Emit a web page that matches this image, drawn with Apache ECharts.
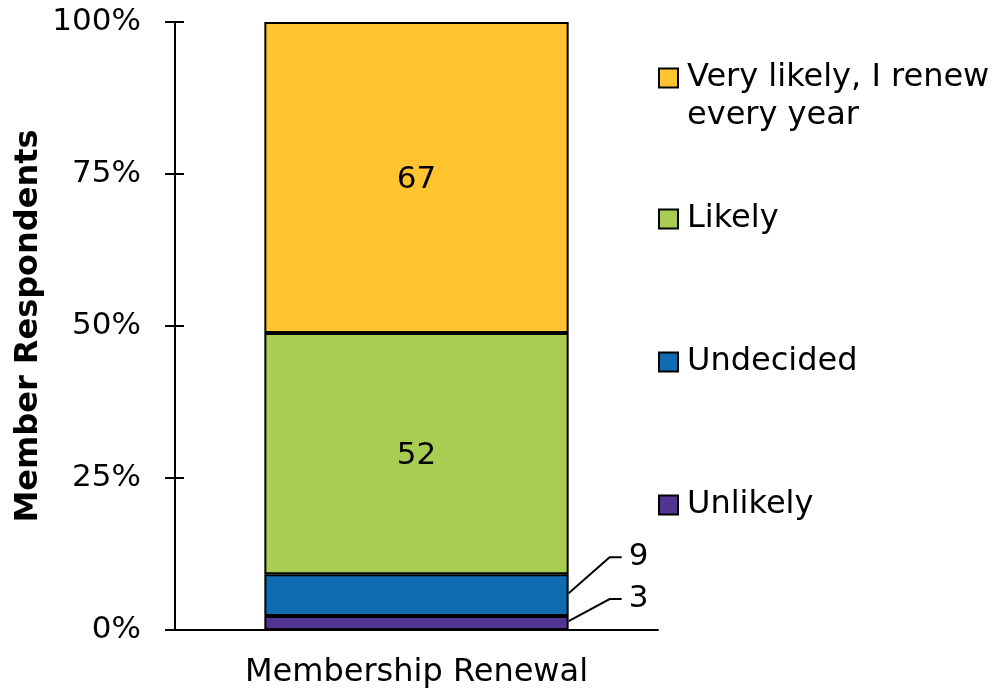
<!DOCTYPE html>
<html>
<head>
<meta charset="utf-8">
<script src="https://cdn.jsdelivr.net/npm/echarts@6/dist/echarts.min.js"></script>
<style>
  html, body { margin: 0; padding: 0; background: #fff; }
  #chart { width: 1004px; height: 690px; }
</style>
</head>
<body>
<div id="chart"></div>
<script>
// ---------------------------------------------------
// Data
// ---------------------------------------------------
const categories = ["Membership Renewal"];
const seriesNames = ["Unlikely", "Undecided", "Likely", "Very likely, I renew every year"];
const counts = [3, 9, 52, 67];
const colors = ["#523492", "#106CB0", "#A8CD52", "#FFC42F"];
const yTicks = [0, 25, 50, 75, 100];

const FONT = "DejaVu Sans";
const BAR_FRAC = 0.63;       // bar width as share of the category band
const SMALL_PCT = 10;        // segments below this get an outside label

const total = counts.reduce((a, b) => a + b, 0);
const pct = counts.map(c => c / total * 100);

// cumulative bottoms / tops for leader lines
const leaderData = [];
let acc = 0;
pct.forEach((p, i) => {
  if (p < SMALL_PCT) leaderData.push([0, acc, acc + p, counts[i]]);
  acc += p;
});

// ---------------------------------------------------
// Legends (one per item, top to bottom)
// ---------------------------------------------------
const legendOrder = seriesNames.slice().reverse();
const legendTops = [21, 200, 343, 486];
const legends = legendOrder.map((name, i) => ({
  data: [name],
  left: 658,
  top: legendTops[i],
  orient: "vertical",
  padding: 0,
  itemWidth: 19,
  itemHeight: 19,
  icon: "rect",
  selectedMode: false,
  itemStyle: { borderColor: "#000", borderWidth: 2 },
  // blank first line keeps the marker level with the first text line
  formatter: n => n === "Very likely, I renew every year" ? "\u00a0\nVery likely, I renew\nevery year" : n,
  textStyle: {
    fontFamily: FONT,
    fontSize: 32,
    color: "#000",
    lineHeight: 38,
    padding: [0, 0, 0, 4]
  }
}));

// ---------------------------------------------------
// Chart
// ---------------------------------------------------
const chart = echarts.init(document.getElementById("chart"));

const barSeries = seriesNames.map((name, i) => ({
  name: name,
  type: "bar",
  stack: "total",
  barWidth: (BAR_FRAC * 100) + "%",
  data: [pct[i]],
  itemStyle: { color: colors[i], borderColor: "#000", borderWidth: 2 },
  label: {
    show: pct[i] >= SMALL_PCT,
    position: "inside",
    offset: [0, 2],
    formatter: () => String(counts[i]),
    fontFamily: FONT,
    fontSize: 31,
    color: "#000"
  },
  emphasis: { disabled: true }
}));

const leaderSeries = {
  type: "custom",
  name: "leaders",
  clip: false,
  silent: true,
  data: leaderData,
  renderItem: (params, api) => {
    const cat = api.value(0);
    const bottom = api.value(1);
    const top = api.value(2);
    const center = api.coord([cat, 0]);
    const band = api.size([1, 0])[0];
    const xr = center[0] + band * BAR_FRAC / 2;
    const yMid = api.coord([cat, (bottom + top) / 2])[1];
    const yLab = api.coord([cat, top])[1] - 17;
    return {
      type: "group",
      children: [
        {
          type: "polyline",
          shape: { points: [[xr, yMid - 2], [xr + 41, yLab], [xr + 53, yLab]] },
          style: { stroke: "#000", lineWidth: 2, fill: null }
        },
        {
          type: "text",
          x: xr + 60,
          y: yLab,
          style: {
            text: String(api.value(3)),
            font: "31px " + FONT,
            fill: "#000",
            verticalAlign: "middle",
            align: "left"
          }
        }
      ]
    };
  }
};

chart.setOption({
  backgroundColor: "#fff",
  animation: false,
  legend: legends,
  grid: { left: 175, right: 346, top: 22, bottom: 60, outerBoundsMode: "none" },
  xAxis: {
    type: "category",
    data: categories,
    axisLine: { lineStyle: { color: "#000", width: 2 } },
    axisTick: { show: false },
    axisLabel: { fontFamily: FONT, fontSize: 32, color: "#000", margin: 27 }
  },
  yAxis: [
    {
      type: "value",
      min: yTicks[0],
      max: yTicks[yTicks.length - 1],
      interval: yTicks[1] - yTicks[0],
      name: "Member Respondents",
      nameLocation: "middle",
      nameGap: 130,
      nameTextStyle: { fontFamily: FONT, fontSize: 32, fontWeight: "bold", color: "#000" },
      axisLine: { show: true, lineStyle: { color: "#000", width: 2 } },
      axisTick: { show: true, length: 10, lineStyle: { color: "#000", width: 2 } },
      axisLabel: { formatter: "{value}%", fontFamily: FONT, fontSize: 31, color: "#000", margin: 34 },
      splitLine: { show: false }
    },
    {
      // inner half of the crossing ticks
      type: "value",
      position: "left",
      min: yTicks[0],
      max: yTicks[yTicks.length - 1],
      interval: yTicks[1] - yTicks[0],
      axisLine: { show: false },
      axisTick: { show: true, inside: true, length: 9, lineStyle: { color: "#000", width: 2 } },
      axisLabel: { show: false },
      splitLine: { show: false }
    }
  ],
  series: [...barSeries, leaderSeries]
});
</script>
</body>
</html>
